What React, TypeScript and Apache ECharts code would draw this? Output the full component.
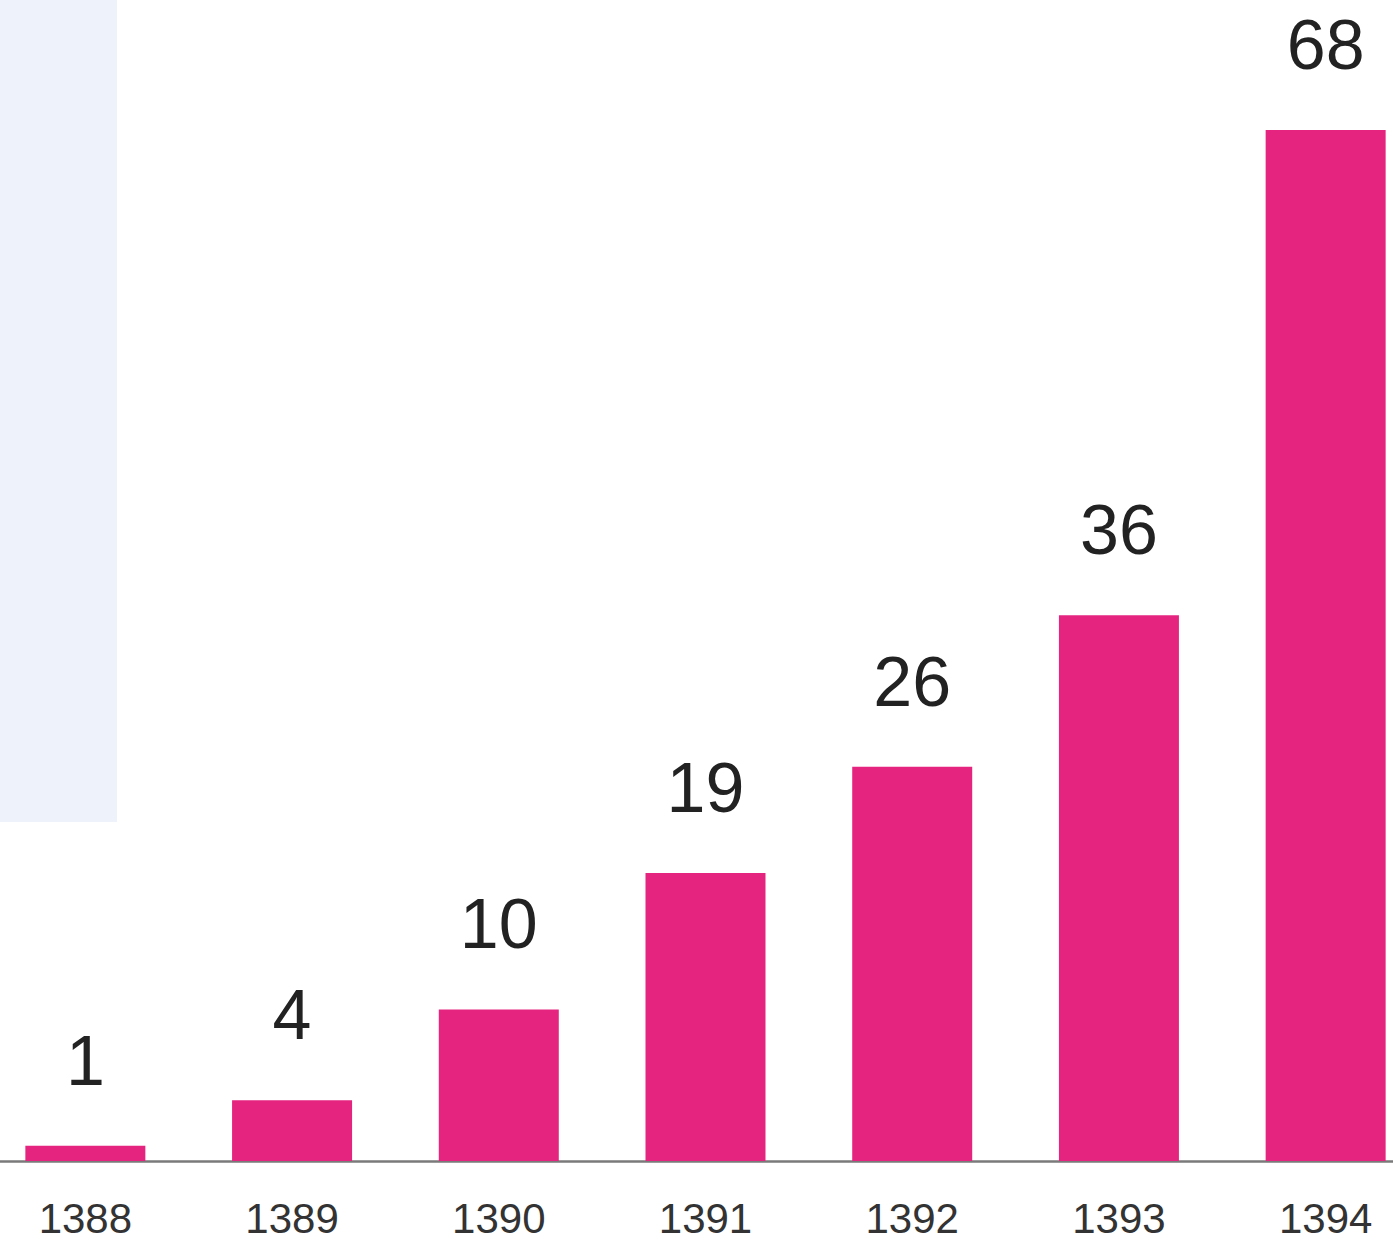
import React, { useEffect, useRef } from "react";
import * as echarts from "echarts";

const years = ["1388", "1389", "1390", "1391", "1392", "1393", "1394"];
const counts = [1, 4, 10, 19, 26, 36, 68];

export default function App() {
  const ref = useRef<HTMLDivElement>(null);
  useEffect(() => {
    if (!ref.current) return;
    const chart = echarts.init(ref.current, null, { renderer: "svg" });
    chart.setOption({
      animation: false,
      backgroundColor: "#ffffff",
      textStyle: { fontFamily: "Liberation Sans, Arial, sans-serif" },
      graphic: [
        {
          type: "rect",
          left: 18,
          top: 0,
          z: -10,
          shape: { x: 0, y: 0, width: 117, height: 822 },
          style: { fill: "#eef2fb" },
        },
      ],
      grid: { left: 0, right: 0, top: 24, bottom: 89, containLabel: false },
      xAxis: {
        type: "category",
        data: years,
        axisLine: { show: true, lineStyle: { color: "#7a7a7a", width: 2.5 } },
        axisTick: { show: false },
        axisLabel: {
          color: "#333333",
          fontSize: 42,
          margin: 36,
          fontFamily: "Liberation Sans, Arial, sans-serif",
        },
      },
      yAxis: {
        type: "value",
        min: 0,
        max: 75,
        show: false,
        splitLine: { show: false },
      },
      series: [
        {
          type: "bar",
          data: counts,
          barWidth: 120,
          itemStyle: { color: "#e5247f" },
          label: {
            show: true,
            position: "top",
            distance: 50,
            color: "#222222",
            fontSize: 70,
            fontFamily: "Liberation Sans, Arial, sans-serif",
          },
        },
      ],
    });
    return () => chart.dispose();
  }, []);
  return (
    <div
      style={{
        position: "absolute",
        left: 0,
        top: 0,
        width: 1393,
        height: 1250,
        overflow: "hidden",
      }}
    >
      <div
        ref={ref}
        style={{ position: "absolute", left: -18, top: 0, width: 1447, height: 1250 }}
      />
    </div>
  );
}
